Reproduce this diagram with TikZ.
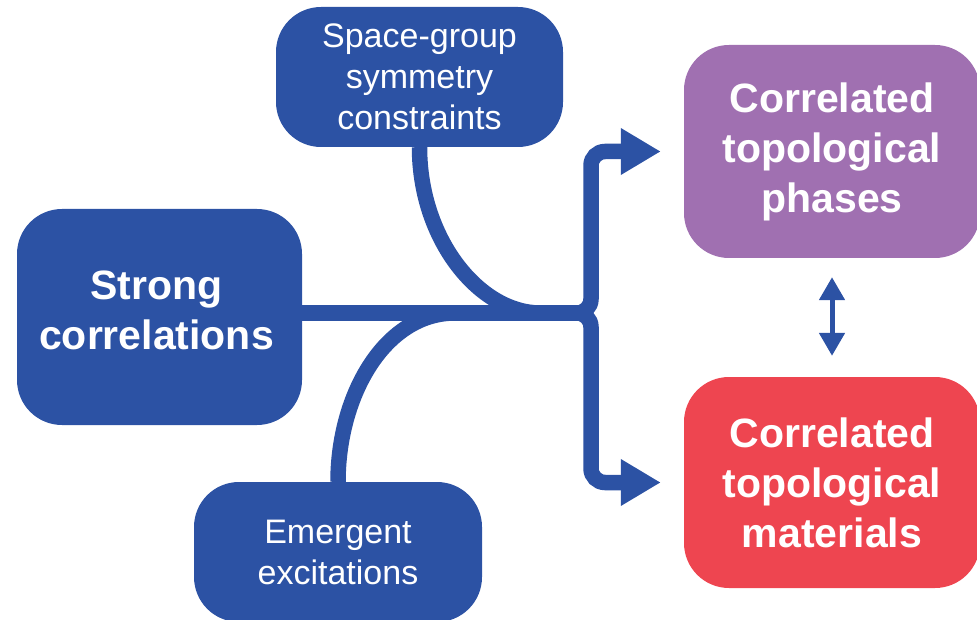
\documentclass[tikz,border=0pt]{standalone}
\usepackage{fontspec}
\setmainfont{Liberation Sans}
\usetikzlibrary{arrows.meta}
\definecolor{cblue}{HTML}{2C52A4}
\definecolor{cpurple}{HTML}{A070B1}
\definecolor{cred}{HTML}{EE4550}
\begin{document}
\begin{tikzpicture}[x=1pt,y=-1pt,
  box/.style={fill=#1, text=white, align=center, inner sep=0pt, rounded corners=45pt},
  regtext/.style={font=\fontsize{34}{41}\selectfont},
  boldtext/.style={font=\fontsize{41}{50}\selectfont\bfseries},
  conn/.style={draw=cblue, line width=15.5pt},
  bigtip/.style={-{Triangle[width=44pt,length=40pt]}},
  dbltip/.style={draw=cblue, line width=5pt, {Triangle[width=25pt,length=23pt]}-{Triangle[width=25pt,length=23pt]}}
]
\useasboundingbox (0,0) rectangle (977,620);

\node[box=cblue, regtext, minimum width=287pt, minimum height=140pt] (space) at (419.5,77)
  {Space-group\\symmetry\\constraints};
\node[box=cblue, minimum width=285pt, minimum height=216pt,
  label={[boldtext, text=white, align=center, xshift=-3pt, yshift=7pt]center:Strong\\correlations}] (strong) at (159.5,317) {};
\node[box=cblue, regtext, minimum width=288pt, minimum height=140pt] (emerg) at (338,552)
  {Emergent\\excitations};
\node[box=cpurple, boldtext, minimum width=296pt, minimum height=213pt] (phases) at (832,151.5)
  {Correlated\\topological\\phases};
\node[box=cred, boldtext, minimum width=296pt, minimum height=211pt] (mater) at (832,482.5)
  {Correlated\\topological\\materials};

\coordinate (j) at (302,313);
\coordinate (brace) at (591,313);
\coordinate (sjoin) at (540,313);
\coordinate (ejoin) at (455,313);

% curves feeding into the trunk
\draw[conn] (space.south) .. controls (419.5,240) and (480,313) .. (sjoin);
\draw[conn] (emerg.north) .. controls (338,395) and (385,313) .. (ejoin);

% trunk splitting into two arrows
\draw[conn, bigtip, rounded corners=14pt] (strong.east |- j) -- (brace) |- ([xshift=-23pt]phases.west);
\draw[conn, bigtip, rounded corners=14pt] (strong.east |- j) -- (brace) |- ([xshift=-23pt]mater.west);

% double arrow
\draw[dbltip, shorten <=19pt, shorten >=21pt] (phases.south) -- (mater.north);
\end{tikzpicture}
\end{document}
